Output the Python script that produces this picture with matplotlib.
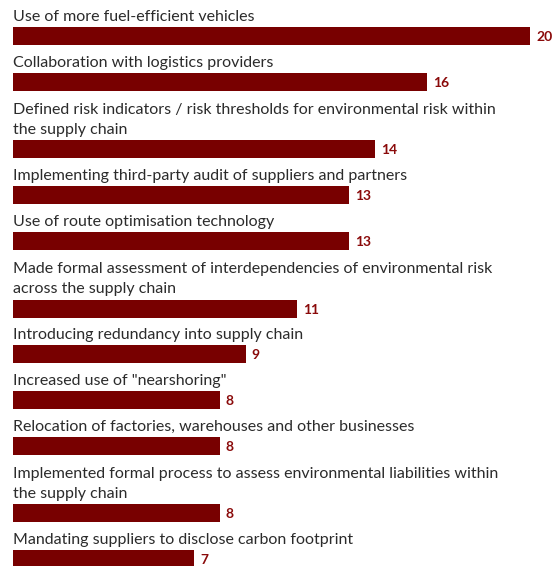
import matplotlib
matplotlib.use("Agg")
import matplotlib.pyplot as plt

# Survey answers, top to bottom
labels = [
    "Use of more fuel-efficient vehicles",
    "Collaboration with logistics providers",
    "Defined risk indicators / risk thresholds for environmental risk within\nthe supply chain",
    "Implementing third-party audit of suppliers and partners",
    "Use of route optimisation technology",
    "Made formal assessment of interdependencies of environmental risk\nacross the supply chain",
    "Introducing redundancy into supply chain",
    "Increased use of \"nearshoring\"",
    "Relocation of factories, warehouses and other businesses",
    "Implemented formal process to assess environmental liabilities within\nthe supply chain",
    "Mandating suppliers to disclose carbon footprint",
]
values = [20, 16, 14, 13, 13, 11, 9, 8, 8, 8, 7]

bar_color = "#780000"
value_color = "#8a0a0a"
text_color = "#2b2b2b"
font = "Lato"

W, H = 554, 566
fig = plt.figure(figsize=(W / 100, H / 100), dpi=100)
ax = fig.add_axes([0, 0, 1, 1])

# x scale: 0 at 13px, 20 at 530px
px_per_unit = (530 - 13) / 20
ax.set_xlim(-13 / px_per_unit, (W - 13) / px_per_unit)
ax.set_ylim(H, 0)  # y in pixels, top down

# stack rows: each row is its label lines plus the bar
centers = []
y = 36
for i, lab in enumerate(labels):
    n = lab.count("\n") + 1
    if i > 0:
        y += 45.7 + 22 * (n - 1)
    centers.append(y)

bar_h = 18
ax.barh(centers, values, height=bar_h, color=bar_color, left=0)

for c, v, lab in zip(centers, values, labels):
    ax.text(0, c - bar_h / 2 - 6, lab, ha="left", va="baseline",
            fontsize=11.5, color=text_color, family=font, linespacing=1.6)
    ax.text(v + 6 / px_per_unit, c + 1, str(v), ha="left", va="center",
            fontsize=10, fontweight="bold", color=value_color, family=font)

ax.axis("off")
fig.savefig("out.png", dpi=100)
